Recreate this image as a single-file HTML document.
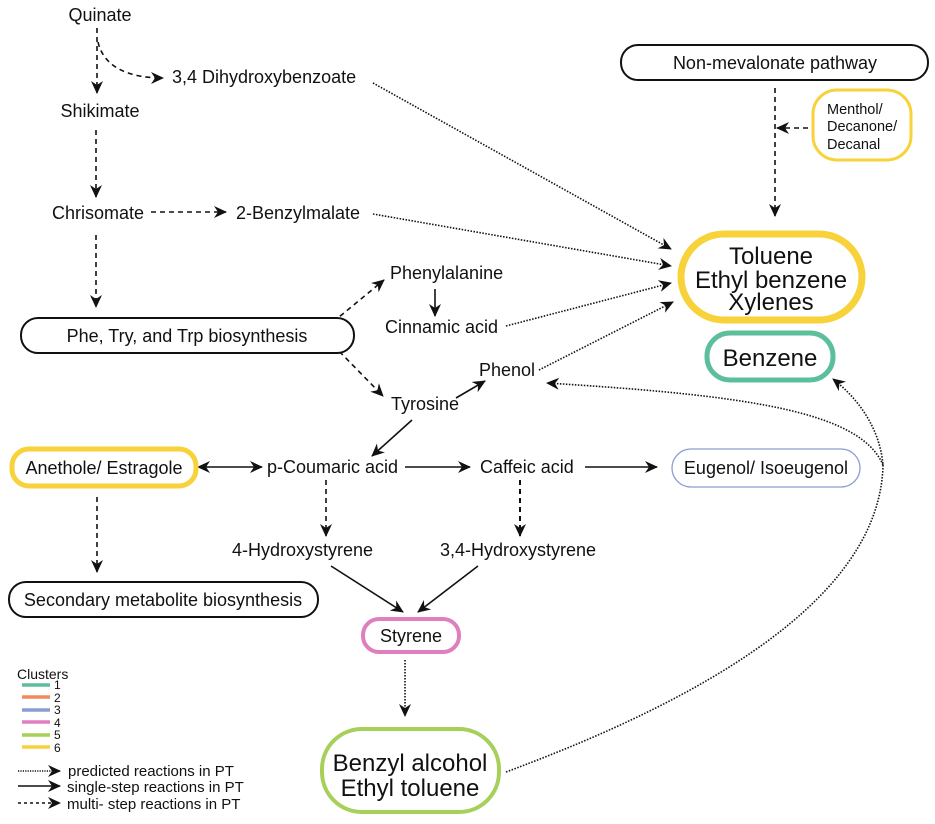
<!DOCTYPE html>
<html><head><meta charset="utf-8"><style>
html,body{margin:0;padding:0;background:#fff;}
svg{display:block;}
text{font-family:"Liberation Sans",sans-serif;fill:#111;}
</style></head><body>
<svg width="935" height="824" viewBox="0 0 935 824" xmlns="http://www.w3.org/2000/svg">
<defs>
<marker id="a" markerWidth="14" markerHeight="12" refX="12" refY="6" orient="auto" markerUnits="userSpaceOnUse">
<path d="M0,0 L13,6 L0,12 L4,6 z" fill="#111"/>
</marker>
</defs>
<g fill="none" stroke="#111" stroke-width="1.6">
<g stroke-dasharray="5,4">
<path d="M97,28 L97,93" marker-end="url(#a)"/>
<path d="M98,42 C104,68 130,78 163,78" marker-end="url(#a)"/>
<path d="M96,130 L96,197" marker-end="url(#a)"/>
<path d="M151,212 L226,212" marker-end="url(#a)"/>
<path d="M96,235 L96,307" marker-end="url(#a)"/>
<path d="M333,322 L384,280" marker-end="url(#a)"/>
<path d="M333,345 L383,396" marker-end="url(#a)"/>
<path d="M97,497 L97,572" marker-end="url(#a)"/>
<path d="M326,480 L326,536" marker-end="url(#a)"/>
<path d="M520,480 L520,536" stroke-width="2" marker-end="url(#a)"/>
<path d="M775,88 L775,216" marker-end="url(#a)"/>
<path d="M808,128 L777,128" marker-end="url(#a)"/>
</g>
<path d="M435,289 L435,316" marker-end="url(#a)"/>
<path d="M456,398 L485,381" marker-end="url(#a)"/>
<path d="M412,420 L372,456" marker-end="url(#a)"/>
<path d="M230,467 L198,467" marker-end="url(#a)"/>
<path d="M230,467 L262,467" marker-end="url(#a)"/>
<path d="M405,467 L470,467" marker-end="url(#a)"/>
<path d="M585,467 L657,467" marker-end="url(#a)"/>
<path d="M331,566 L403,612" marker-end="url(#a)"/>
<path d="M478,566 L418,612" marker-end="url(#a)"/>
<g stroke-dasharray="1.5,1.5">
<path d="M373,83 L671,249" marker-end="url(#a)"/>
<path d="M373,214 L671,266" marker-end="url(#a)"/>
<path d="M506,326 L671,283" marker-end="url(#a)"/>
<path d="M539,370 L673,302" marker-end="url(#a)"/>
<path d="M405,660 L405,716" marker-end="url(#a)"/>
<path d="M506,772 C700,700 880,600 883,465 C880,430 860,400 833,379" marker-end="url(#a)"/>
<path d="M883,465 C860,410 740,395 547,383" marker-end="url(#a)"/>
</g>
</g>
<rect x="621" y="45" width="307" height="35" rx="17" fill="#fff" stroke="#111" stroke-width="2"/>
<rect x="813" y="90" width="98" height="70" rx="24" fill="#fff" stroke="#f7d23a" stroke-width="3"/>
<rect x="681" y="234" width="181" height="86" rx="43" fill="#fff" stroke="#f7d23a" stroke-width="7"/>
<rect x="707" y="333" width="126" height="47" rx="23" fill="#fff" stroke="#5bbf9b" stroke-width="5"/>
<rect x="21" y="318" width="333" height="35" rx="17" fill="#fff" stroke="#111" stroke-width="2"/>
<rect x="12" y="449" width="184" height="37" rx="17" fill="#fff" stroke="#f7d23a" stroke-width="5"/>
<rect x="672" y="449" width="188" height="38" rx="19" fill="#fff" stroke="#8a9dd0" stroke-width="1.3"/>
<rect x="9" y="582" width="309" height="35" rx="17" fill="#fff" stroke="#111" stroke-width="2"/>
<rect x="363" y="619" width="96" height="33" rx="16" fill="#fff" stroke="#e07fc0" stroke-width="4"/>
<rect x="322" y="729" width="177" height="83" rx="40" fill="#fff" stroke="#a6d05a" stroke-width="4"/>
<g font-size="18">
<text x="100" y="21" text-anchor="middle">Quinate</text>
<text x="172" y="83">3,4 Dihydroxybenzoate</text>
<text x="100" y="117" text-anchor="middle">Shikimate</text>
<text x="98" y="219" text-anchor="middle">Chrisomate</text>
<text x="236" y="219">2-Benzylmalate</text>
<text x="390" y="279">Phenylalanine</text>
<text x="385" y="333">Cinnamic acid</text>
<text x="479" y="376">Phenol</text>
<text x="391" y="410">Tyrosine</text>
<text x="187" y="342" text-anchor="middle">Phe, Try, and Trp biosynthesis</text>
<text x="267" y="473">p-Coumaric acid</text>
<text x="480" y="473">Caffeic acid</text>
<text x="104" y="474" text-anchor="middle">Anethole/ Estragole</text>
<text x="766" y="474" text-anchor="middle">Eugenol/ Isoeugenol</text>
<text x="232" y="556">4-Hydroxystyrene</text>
<text x="440" y="556">3,4-Hydroxystyrene</text>
<text x="163" y="606" text-anchor="middle">Secondary metabolite biosynthesis</text>
<text x="411" y="642" text-anchor="middle">Styrene</text>
<text x="775" y="69" text-anchor="middle">Non-mevalonate pathway</text>
</g>
<g font-size="14.5">
<text x="827" y="114">Menthol/</text>
<text x="827" y="131">Decanone/</text>
<text x="827" y="149">Decanal</text>
</g>
<g font-size="24" text-anchor="middle">
<text x="771" y="264">Toluene</text>
<text x="771" y="288">Ethyl benzene</text>
<text x="771" y="310">Xylenes</text>
<text x="770" y="366">Benzene</text>
<text x="410" y="771">Benzyl alcohol</text>
<text x="410" y="796">Ethyl toluene</text>
</g>
<text x="17" y="679" font-size="14">Clusters</text>
<g stroke-width="3.5">
<line x1="22" y1="685" x2="50" y2="685" stroke="#5bbf9b"/>
<line x1="22" y1="697" x2="50" y2="697" stroke="#f28a5e"/>
<line x1="22" y1="710" x2="50" y2="710" stroke="#8a9dd0"/>
<line x1="22" y1="722" x2="50" y2="722" stroke="#e07fc0"/>
<line x1="22" y1="735" x2="50" y2="735" stroke="#a6d05a"/>
<line x1="22" y1="747" x2="50" y2="747" stroke="#f7d23a"/>
</g>
<g font-size="12">
<text x="54" y="689">1</text><text x="54" y="702">2</text><text x="54" y="714">3</text>
<text x="54" y="727">4</text><text x="54" y="739">5</text><text x="54" y="752">6</text>
</g>
<g fill="none" stroke="#111" stroke-width="1.4">
<path d="M18,771 L60,771" stroke-dasharray="1.2,1.2" marker-end="url(#a)"/>
<path d="M18,786 L60,786" marker-end="url(#a)"/>
<path d="M18,803 L60,803" stroke-dasharray="3,3" marker-end="url(#a)"/>
</g>
<g font-size="15">
<text x="68" y="776">predicted reactions in PT</text>
<text x="67" y="792">single-step reactions in PT</text>
<text x="67" y="809">multi- step reactions in PT</text>
</g>
</svg>
</body></html>
